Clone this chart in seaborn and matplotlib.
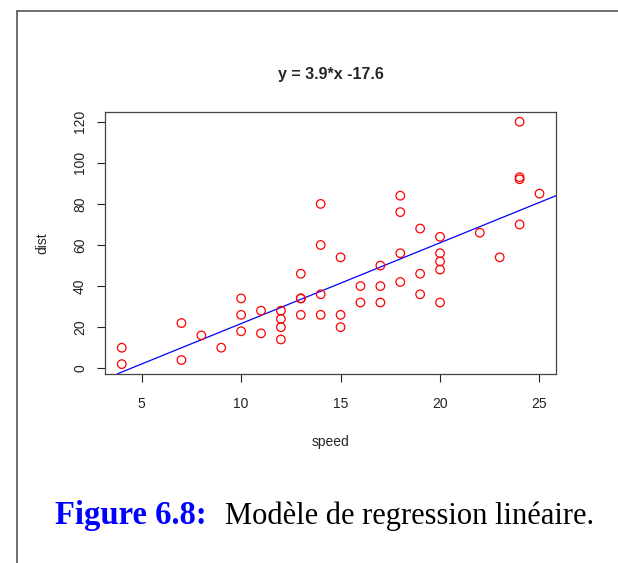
import numpy as np
import matplotlib
matplotlib.use("Agg")
import matplotlib.pyplot as plt
from matplotlib.lines import Line2D
import seaborn as sns

# cars data (speed, stopping distance)
speed = [4, 4, 7, 7, 8, 9, 10, 10, 10, 11, 11, 12, 12, 12, 12, 13, 13, 13, 13,
         14, 14, 14, 14, 15, 15, 15, 16, 16, 17, 17, 17, 18, 18, 18, 18, 19, 19,
         19, 20, 20, 20, 20, 20, 22, 23, 24, 24, 24, 24, 25]
dist = [2, 10, 4, 22, 16, 10, 18, 26, 34, 17, 28, 14, 20, 24, 28, 26, 34, 34, 46,
        26, 36, 60, 80, 20, 26, 54, 32, 40, 32, 40, 50, 42, 56, 76, 84, 36, 46,
        68, 32, 48, 52, 56, 64, 66, 54, 70, 92, 93, 120, 85]
x_ticks = [5, 10, 15, 20, 25]
y_ticks = [0, 20, 40, 60, 80, 100, 120]

sns.set_style("ticks")
plt.rcParams["font.family"] = ["Liberation Sans", "DejaVu Sans"]

fig = plt.figure(figsize=(6.18, 5.63), dpi=100)
ax = fig.add_axes([0.170, 0.336, 0.730, 0.465])

sns.scatterplot(x=speed, y=dist, ax=ax, s=38, facecolor="none",
                edgecolor="red", linewidth=0.9, zorder=3)

# least squares fit
slope, intercept = np.polyfit(speed, dist, 1)
ax.axline((0, intercept), slope=slope, color="blue", linewidth=0.9, zorder=2)

ax.set_xlim(3.16, 25.84)
ax.set_ylim(-2.72, 124.72)
ax.set_xticks(x_ticks)
ax.set_yticks(y_ticks)
ax.tick_params(axis="both", direction="out", length=6, width=0.8,
               labelsize=10, colors="#222222")
ax.tick_params(axis="x", pad=11)
ax.tick_params(axis="y", pad=7)
for lab in ax.get_yticklabels():
    lab.set_rotation(90)
    lab.set_va("center")
for sp in ax.spines.values():
    sp.set_visible(True)
    sp.set_color("#444444")
    sp.set_linewidth(0.9)

ax.set_xlabel("speed", fontsize=10, labelpad=17)
ax.set_ylabel("dist", fontsize=10, labelpad=17)
ax.set_title("y = %.1f*x %.1f" % (slope, intercept), fontsize=11.5,
             fontweight="bold", pad=24)

# page frame
fig.add_artist(Line2D([17 / 618, 17 / 618], [0, 1 - 11 / 563],
                      transform=fig.transFigure, color="#555555", linewidth=1.2))
fig.add_artist(Line2D([17 / 618, 1], [1 - 11 / 563, 1 - 11 / 563],
                      transform=fig.transFigure, color="#555555", linewidth=1.2))

# caption
serif = ["Liberation Serif", "DejaVu Serif"]
fig.text(55 / 618, 1 - 524 / 563, "Figure 6.8:", color="blue", fontsize=23.5,
         fontweight="bold", family=serif, va="baseline", ha="left")
fig.text(225 / 618, 1 - 524 / 563, "Modèle de regression linéaire.",
         color="black", fontsize=22, family=serif, va="baseline", ha="left")

fig.savefig("out.png", dpi=100)
